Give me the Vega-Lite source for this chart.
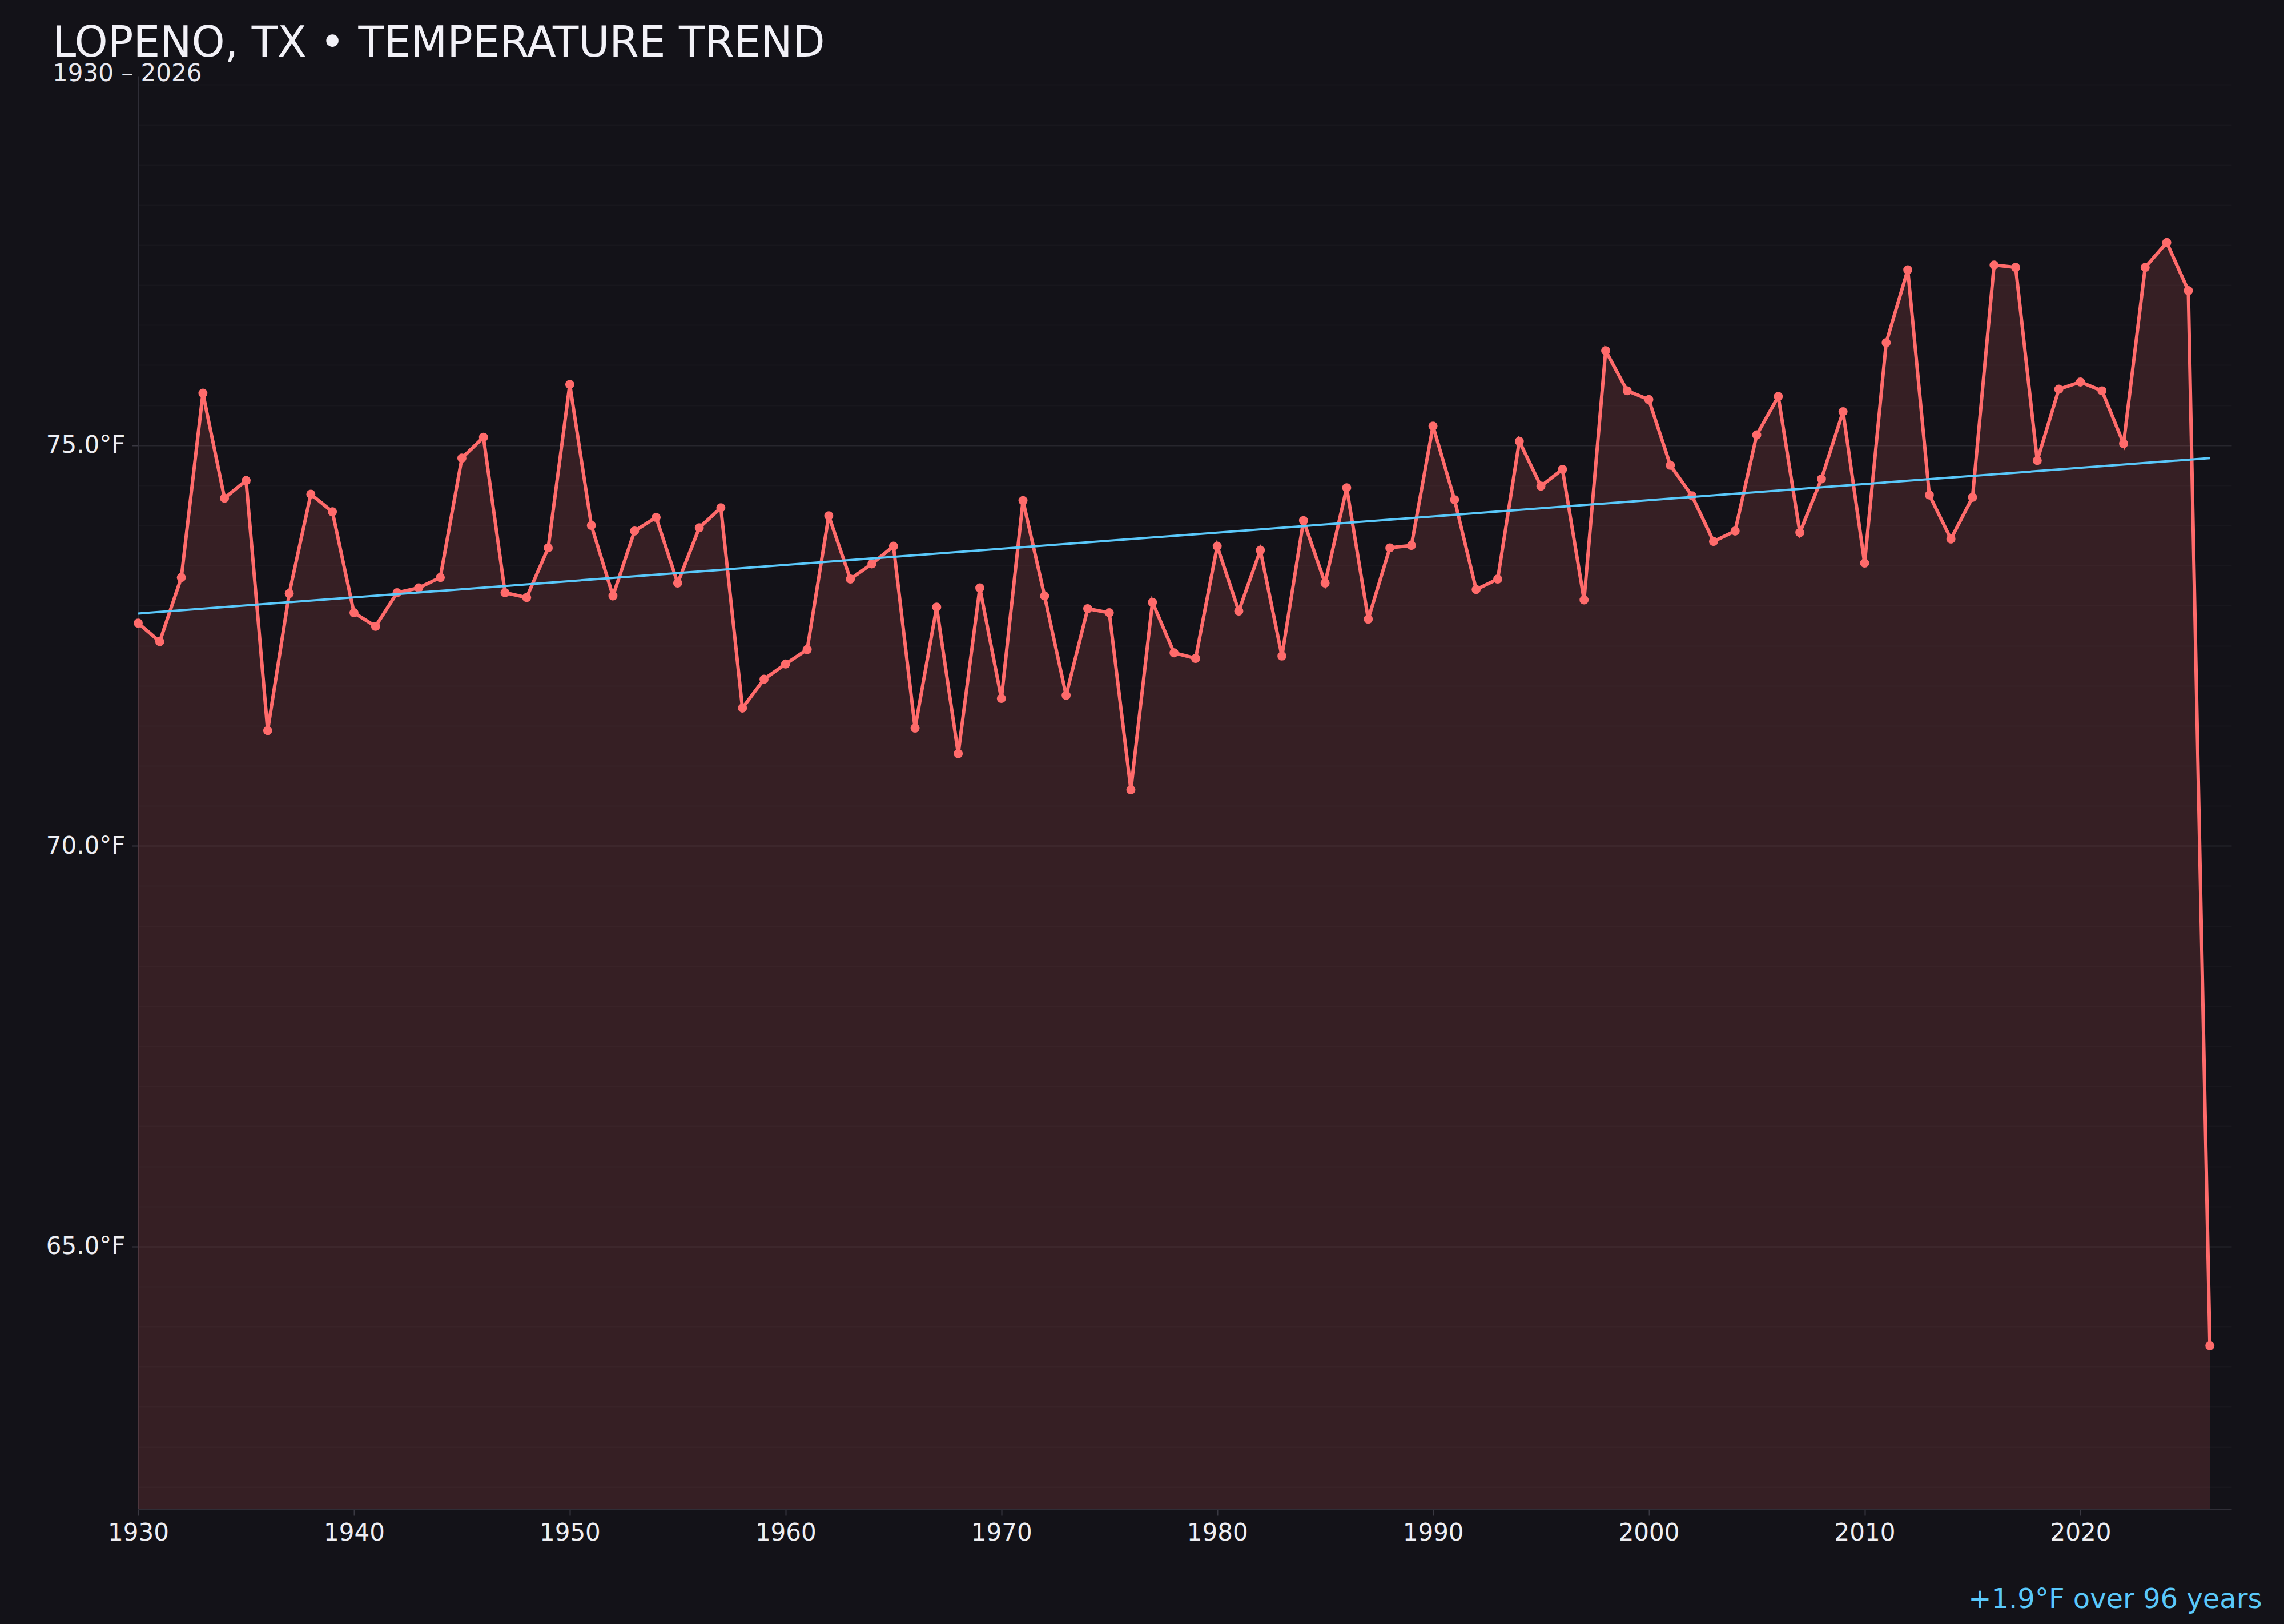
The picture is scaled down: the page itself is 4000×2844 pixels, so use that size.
{
  "$schema": "https://vega.github.io/schema/vega-lite/v6.json",
  "width": 3666,
  "height": 2510,
  "autosize": {"type": "none"},
  "padding": {"left": 242, "top": 133, "right": 92, "bottom": 201},
  "background": "#131218",
  "config": {
    "font": "DejaVu Sans",
    "view": {"stroke": null},
    "axis": {
      "labelFont": "DejaVu Sans",
      "titleFont": "DejaVu Sans",
      "labelColor": "#eeeef2",
      "domainColor": "#2f2e37",
      "domainWidth": 2,
      "tickColor": "#3a3942",
      "tickWidth": 2
    }
  },
  "title": {
    "text": "LOPENO, TX • TEMPERATURE TREND",
    "subtitle": "1930 – 2026",
    "anchor": "start",
    "frame": "group",
    "dx": -150,
    "offset": -18,
    "font": "DejaVu Sans",
    "fontSize": 74,
    "fontWeight": "normal",
    "color": "#f2f1f7",
    "subtitleFont": "DejaVu Sans",
    "subtitleFontSize": 42,
    "subtitleColor": "#e8e7ee",
    "subtitlePadding": -6
  },
  "datasets": {
    "temps": [
      {"year": 1930, "temp": 72.78}, {"year": 1931, "temp": 72.55}, {"year": 1932, "temp": 73.35},
      {"year": 1933, "temp": 75.65}, {"year": 1934, "temp": 74.34}, {"year": 1935, "temp": 74.56},
      {"year": 1936, "temp": 71.44}, {"year": 1937, "temp": 73.15}, {"year": 1938, "temp": 74.39},
      {"year": 1939, "temp": 74.17}, {"year": 1940, "temp": 72.91}, {"year": 1941, "temp": 72.74},
      {"year": 1942, "temp": 73.16}, {"year": 1943, "temp": 73.22}, {"year": 1944, "temp": 73.35},
      {"year": 1945, "temp": 74.84}, {"year": 1946, "temp": 75.10}, {"year": 1947, "temp": 73.16},
      {"year": 1948, "temp": 73.10}, {"year": 1949, "temp": 73.72}, {"year": 1950, "temp": 75.76},
      {"year": 1951, "temp": 74.00}, {"year": 1952, "temp": 73.12}, {"year": 1953, "temp": 73.93},
      {"year": 1954, "temp": 74.10}, {"year": 1955, "temp": 73.28}, {"year": 1956, "temp": 73.97},
      {"year": 1957, "temp": 74.22}, {"year": 1958, "temp": 71.72}, {"year": 1959, "temp": 72.08},
      {"year": 1960, "temp": 72.27}, {"year": 1961, "temp": 72.45}, {"year": 1962, "temp": 74.12},
      {"year": 1963, "temp": 73.33}, {"year": 1964, "temp": 73.52}, {"year": 1965, "temp": 73.74},
      {"year": 1966, "temp": 71.47}, {"year": 1967, "temp": 72.98}, {"year": 1968, "temp": 71.15},
      {"year": 1969, "temp": 73.22}, {"year": 1970, "temp": 71.84}, {"year": 1971, "temp": 74.31},
      {"year": 1972, "temp": 73.12}, {"year": 1973, "temp": 71.88}, {"year": 1974, "temp": 72.96},
      {"year": 1975, "temp": 72.91}, {"year": 1976, "temp": 70.70}, {"year": 1977, "temp": 73.04},
      {"year": 1978, "temp": 72.41}, {"year": 1979, "temp": 72.34}, {"year": 1980, "temp": 73.74},
      {"year": 1981, "temp": 72.93}, {"year": 1982, "temp": 73.69}, {"year": 1983, "temp": 72.37},
      {"year": 1984, "temp": 74.06}, {"year": 1985, "temp": 73.28}, {"year": 1986, "temp": 74.47},
      {"year": 1987, "temp": 72.83}, {"year": 1988, "temp": 73.72}, {"year": 1989, "temp": 73.75},
      {"year": 1990, "temp": 75.24}, {"year": 1991, "temp": 74.32}, {"year": 1992, "temp": 73.20},
      {"year": 1993, "temp": 73.33}, {"year": 1994, "temp": 75.05}, {"year": 1995, "temp": 74.49},
      {"year": 1996, "temp": 74.70}, {"year": 1997, "temp": 73.07}, {"year": 1998, "temp": 76.18},
      {"year": 1999, "temp": 75.68}, {"year": 2000, "temp": 75.57}, {"year": 2001, "temp": 74.75},
      {"year": 2002, "temp": 74.37}, {"year": 2003, "temp": 73.80}, {"year": 2004, "temp": 73.93},
      {"year": 2005, "temp": 75.13}, {"year": 2006, "temp": 75.61}, {"year": 2007, "temp": 73.91},
      {"year": 2008, "temp": 74.58}, {"year": 2009, "temp": 75.42}, {"year": 2010, "temp": 73.53},
      {"year": 2011, "temp": 76.28}, {"year": 2012, "temp": 77.19}, {"year": 2013, "temp": 74.38},
      {"year": 2014, "temp": 73.83}, {"year": 2015, "temp": 74.35}, {"year": 2016, "temp": 77.25},
      {"year": 2017, "temp": 77.22}, {"year": 2018, "temp": 74.81}, {"year": 2019, "temp": 75.70},
      {"year": 2020, "temp": 75.79}, {"year": 2021, "temp": 75.68}, {"year": 2022, "temp": 75.02},
      {"year": 2023, "temp": 77.22}, {"year": 2024, "temp": 77.53}, {"year": 2025, "temp": 76.93},
      {"year": 2026, "temp": 63.76}
    ],
    "trend": [
      {"year": 1930, "temp": 72.90},
      {"year": 2026, "temp": 74.84}
    ]
  },
  "data": {"name": "temps"},
  "encoding": {
    "x": {
      "field": "year",
      "type": "quantitative",
      "scale": {"domain": [1930, 2027], "nice": false, "zero": false},
      "axis": {
        "values": [1930, 1940, 1950, 1960, 1970, 1980, 1990, 2000, 2010, 2020],
        "format": "d",
        "grid": false,
        "labelFlush": false,
        "labelFontSize": 42,
        "labelPadding": 11,
        "tickSize": 10,
        "title": "+1.9°F over 96 years",
        "titleColor": "#5ac8fa",
        "titleFontSize": 48,
        "titleFontWeight": "normal",
        "titleAlign": "right",
        "titleBaseline": "alphabetic",
        "titleX": 3719,
        "titleY": 172
      }
    },
    "y": {
      "field": "temp",
      "type": "quantitative",
      "scale": {"domain": [61.72, 79.61], "nice": false, "zero": false},
      "axis": {
        "values": [62, 62.5, 63, 63.5, 64, 64.5, 65, 65.5, 66, 66.5, 67, 67.5, 68, 68.5, 69, 69.5, 70, 70.5, 71, 71.5, 72, 72.5, 73, 73.5, 74, 74.5, 75, 75.5, 76, 76.5, 77, 77.5, 78, 78.5, 79, 79.5],
        "labelExpr": "datum.value % 5 === 0 ? format(datum.value, '.1f') + '°F' : ''",
        "labelFontSize": 42,
        "labelPadding": 12,
        "tickSize": 11,
        "tickOpacity": {"condition": {"test": "datum.value % 5 === 0", "value": 1}, "value": 0},
        "gridColor": {"condition": {"test": "datum.value % 5 === 0", "value": "#27262d"}, "value": "#18171d"},
        "gridWidth": 2,
        "title": null
      }
    }
  },
  "layer": [
    {
      "mark": {"type": "area", "color": "#ff6b6b", "opacity": 0.15, "clip": true}
    },
    {
      "mark": {"type": "line", "color": "#ff6b6b", "strokeWidth": 6}
    },
    {
      "mark": {"type": "point", "filled": true, "color": "#ff6b6b", "opacity": 1, "size": 254}
    },
    {
      "data": {"name": "trend"},
      "mark": {"type": "line", "color": "#5ac8fa", "strokeWidth": 4}
    }
  ]
}
